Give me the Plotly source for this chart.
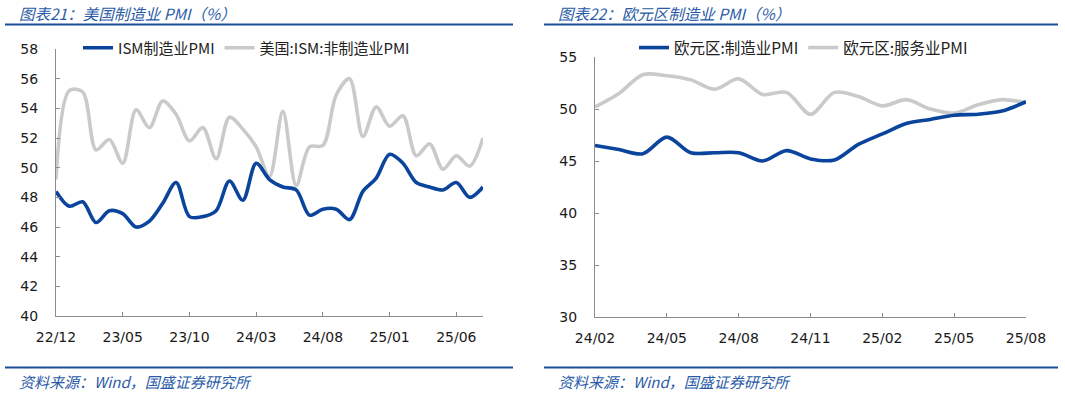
import plotly.graph_objects as go

# ---------------- data ----------------
us_months = ["22/12", "23/01", "23/02", "23/03", "23/04", "23/05", "23/06", "23/07", "23/08",
             "23/09", "23/10", "23/11", "23/12", "24/01", "24/02", "24/03", "24/04", "24/05",
             "24/06", "24/07", "24/08", "24/09", "24/10", "24/11", "24/12", "25/01", "25/02",
             "25/03", "25/04", "25/05", "25/06", "25/07", "25/08"]
ism_mfg = [48.4, 47.4, 47.7, 46.3, 47.1, 46.9, 46.0, 46.4, 47.6, 49.0, 46.7, 46.7, 47.1,
           49.1, 47.8, 50.3, 49.2, 48.7, 48.5, 46.8, 47.2, 47.2, 46.5, 48.4, 49.3, 50.9,
           50.3, 49.0, 48.7, 48.5, 49.0, 48.0, 48.7]
ism_nonmfg = [49.2, 55.2, 55.1, 51.2, 51.9, 50.3, 53.9, 52.7, 54.5, 53.6, 51.8, 52.7, 50.6,
              53.4, 52.6, 51.4, 49.4, 53.8, 48.8, 51.4, 51.5, 54.9, 56.0, 52.1, 54.1, 52.8,
              53.5, 50.8, 51.6, 49.9, 50.8, 50.1, 52.0]
us_ticks = ["22/12", "23/05", "23/10", "24/03", "24/08", "25/01", "25/06"]

ez_months = ["24/02", "24/03", "24/04", "24/05", "24/06", "24/07", "24/08", "24/09", "24/10",
             "24/11", "24/12", "25/01", "25/02", "25/03", "25/04", "25/05", "25/06", "25/07",
             "25/08"]
ez_mfg = [46.5, 46.1, 45.7, 47.3, 45.8, 45.8, 45.8, 45.0, 46.0, 45.2, 45.1, 46.6, 47.6,
          48.6, 49.0, 49.4, 49.5, 49.8, 50.7]
ez_svc = [50.2, 51.5, 53.3, 53.2, 52.8, 51.9, 52.9, 51.4, 51.6, 49.5, 51.6, 51.2, 50.3,
          50.9, 50.0, 49.6, 50.4, 50.9, 50.6]
ez_ticks = ["24/02", "24/05", "24/08", "24/11", "25/02", "25/05", "25/08"]

# ---------------- style ----------------
W, H = 1065, 394
BLUE = "#0B449C"
GRAY = "#CACACA"
TITLE_BLUE = "#2A5BA8"
RULE_BLUE = "#1C4C9A"
AXIS = "#8C8C8C"
FONT = "DejaVu Sans, Noto Sans CJK SC, sans-serif"
CJK = "Noto Sans CJK SC, DejaVu Sans, sans-serif"


def px_x(v):
    return v / W


def px_y(v):
    return 1 - v / H


fig = go.Figure()

# left chart
fig.add_trace(go.Scatter(x=us_months, y=ism_nonmfg, name="美国:ISM:非制造业PMI", mode="lines",
                         line=dict(color=GRAY, width=3.6, shape="spline", smoothing=0.9),
                         xaxis="x", yaxis="y", legend="legend", legendrank=2))
fig.add_trace(go.Scatter(x=us_months, y=ism_mfg, name="ISM制造业PMI", mode="lines",
                         line=dict(color=BLUE, width=3.6, shape="spline", smoothing=0.9),
                         xaxis="x", yaxis="y", legend="legend", legendrank=1))
# right chart
fig.add_trace(go.Scatter(x=ez_months, y=ez_svc, name="欧元区:服务业PMI", mode="lines",
                         line=dict(color=GRAY, width=3.6, shape="spline", smoothing=0.9),
                         xaxis="x2", yaxis="y2", legend="legend2", legendrank=2))
fig.add_trace(go.Scatter(x=ez_months, y=ez_mfg, name="欧元区:制造业PMI", mode="lines",
                         line=dict(color=BLUE, width=3.6, shape="spline", smoothing=0.9),
                         xaxis="x2", yaxis="y2", legend="legend2", legendrank=1))

axis_common = dict(showline=True, linecolor=AXIS, linewidth=1, ticks="inside", ticklen=4,
                   tickcolor=AXIS, tickwidth=1, showgrid=False, zeroline=False,
                   automargin=False,
                   tickfont=dict(family=FONT, size=14, color="#1a1a1a"))

fig.update_layout(
    width=W, height=H,
    margin=dict(l=0, r=0, t=0, b=0, autoexpand=False),
    paper_bgcolor="white", plot_bgcolor="white",
    showlegend=True,
    xaxis=dict(domain=[px_x(56), px_x(483)], type="category", categoryorder="array",
               categoryarray=us_months, range=[0, len(us_months) - 1], tickmode="array",
               tickvals=us_ticks, ticktext=us_ticks, ticklabelstandoff=8, anchor="y",
               **axis_common),
    yaxis=dict(domain=[px_y(316), px_y(49)], range=[40, 58], dtick=2, tick0=40,
               ticklabelstandoff=14, anchor="x", **axis_common),
    xaxis2=dict(domain=[px_x(595), px_x(1026)], type="category", categoryorder="array",
                categoryarray=ez_months, range=[0, len(ez_months) - 1], tickmode="array",
                tickvals=ez_ticks, ticktext=ez_ticks, ticklabelstandoff=8, anchor="y2",
                **axis_common),
    yaxis2=dict(domain=[px_y(317), px_y(57)], range=[30, 55], dtick=5, tick0=30,
                ticklabelstandoff=14, anchor="x2", **axis_common),
    legend=dict(orientation="h", x=px_x(78), y=px_y(48), xanchor="left", yanchor="middle",
                bgcolor="rgba(0,0,0,0)", font=dict(family=CJK, size=15, color="#222"),
                itemwidth=30, traceorder="normal", tracegroupgap=0),
    legend2=dict(orientation="h", x=px_x(634), y=px_y(48), xanchor="left", yanchor="middle",
                 bgcolor="rgba(0,0,0,0)", font=dict(family=CJK, size=15.5, color="#222"),
                 itemwidth=30, traceorder="normal", tracegroupgap=0),
)

# titles, rules and sources
titles = [("图表21：美国制造业 PMI（%）", 17), ("图表22：欧元区制造业 PMI（%）", 556)]
for text, x0 in titles:
    fig.add_annotation(text="<i>" + text + "</i>", xref="paper", yref="paper",
                       x=px_x(x0), y=px_y(13), xanchor="left", yanchor="middle",
                       showarrow=False, font=dict(family=CJK, size=15.5, color=TITLE_BLUE))
for text, x0 in [("资料来源：Wind，国盛证券研究所", 17), ("资料来源：Wind，国盛证券研究所", 556)]:
    fig.add_annotation(text="<i>" + text + "</i>", xref="paper", yref="paper",
                       x=px_x(x0), y=px_y(381), xanchor="left", yanchor="middle",
                       showarrow=False, font=dict(family=CJK, size=15, color=TITLE_BLUE))

for (xa, xb) in [(5, 513), (544, 1058)]:
    for yy in (24.5, 367.5):
        fig.add_shape(type="line", xref="paper", yref="paper",
                      x0=px_x(xa), x1=px_x(xb), y0=px_y(yy), y1=px_y(yy),
                      line=dict(color=RULE_BLUE, width=2))

fig.write_html("out.html", config={"displayModeBar": False},
               post_script="document.body.style.margin='0';document.body.style.overflow='hidden';")
